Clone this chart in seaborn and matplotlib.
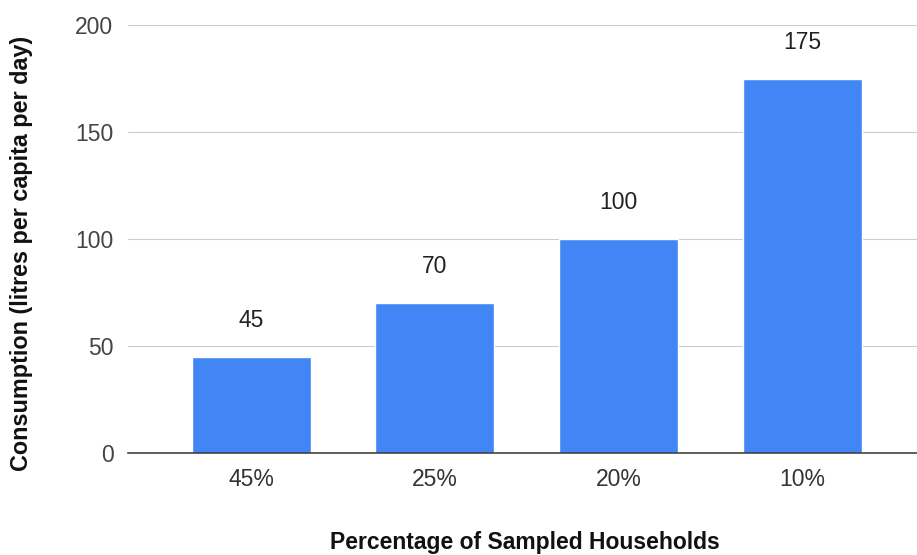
import matplotlib
matplotlib.use("Agg")
import matplotlib.pyplot as plt
import seaborn as sns
import pandas as pd

# Household share groups and their water consumption
categories = ["45%", "25%", "20%", "10%"]
consumption = [45, 70, 100, 175]
y_ticks = [0, 50, 100, 150, 200]

x_title = "Percentage of Sampled Households"
y_title = "Consumption (litres per capita per day)"

BAR_BLUE = "#4285F4"

sns.set_theme(style="white")
plt.rcParams["font.family"] = ["Liberation Sans", "DejaVu Sans"]

df = pd.DataFrame({"group": categories, "consumption": consumption})

W, H = 917, 555
fig = plt.figure(figsize=(W / 100, H / 100), dpi=100)
ax = fig.add_axes([128 / W, 1 - 453 / H, (917 - 128) / W, (453 - 25) / H])

sns.barplot(data=df, x="group", y="consumption", color=BAR_BLUE,
            saturation=1, width=0.648, ax=ax, zorder=3)

ax.set_ylim(0, 200)
ax.set_xlim(-0.67, 3.625)
ax.set_yticks(y_ticks)
ax.set_yticklabels([str(t) for t in y_ticks])
ax.set_xlabel("")
ax.set_ylabel("")

# light horizontal gridlines, darker baseline
ax.yaxis.grid(True, color="#cccccc", linewidth=0.8, zorder=0)
ax.xaxis.grid(False)
for side in ["top", "right", "left"]:
    ax.spines[side].set_visible(False)
ax.spines["bottom"].set_color("#333333")
ax.spines["bottom"].set_linewidth(1.1)
ax.spines["bottom"].set_zorder(4)

ax.tick_params(axis="y", length=0, pad=10.5, labelsize=16.5, labelcolor="#444444")
ax.tick_params(axis="x", length=0, pad=11, labelsize=16.5, labelcolor="#333333")

# value labels above each bar
for i, v in enumerate(consumption):
    ax.annotate(str(v), xy=(i, v), xytext=(0, 21.5), textcoords="offset points",
                ha="center", va="baseline", fontsize=16.5, color="#222222")

fig.text(524.5 / W, 1 - 549 / H, x_title, ha="center", va="baseline",
         fontsize=16.5, fontweight="bold", color="#111111")
fig.text(22 / W, 1 - 253 / H, y_title, ha="center", va="center", rotation=90,
         fontsize=16.8, fontweight="bold", color="#111111")

fig.savefig("out.png", dpi=100)
